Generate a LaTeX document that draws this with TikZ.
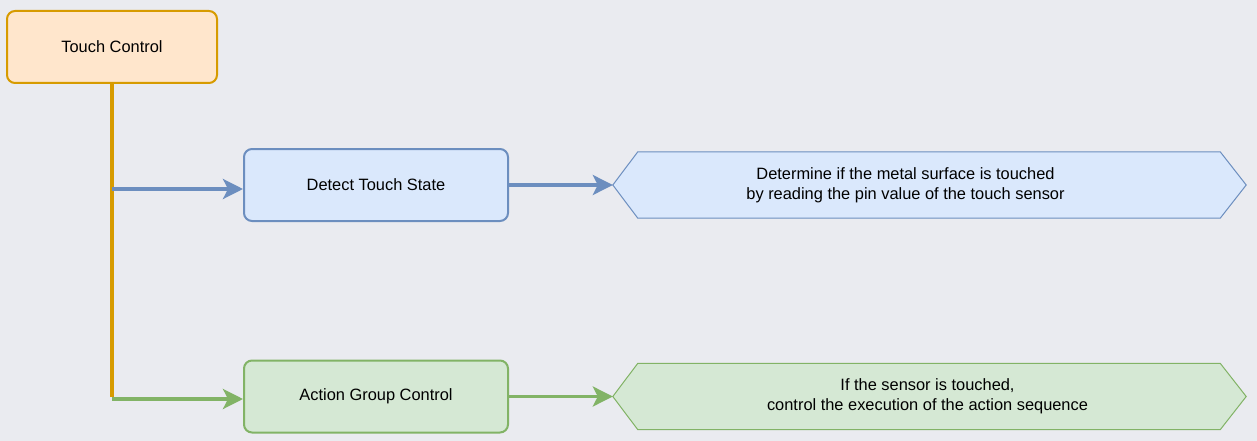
\documentclass[tikz,border=0pt]{standalone}
\usepackage{fontspec}
\setmainfont{Liberation Sans}
\usepackage{tikz}
\usetikzlibrary{positioning, arrows.meta, shapes}
\definecolor{bgcolor}{HTML}{EAEBF0}
\definecolor{illiniorange}{HTML}{FFE6CC}
\definecolor{darkorange}{HTML}{D79B00}
\definecolor{illiniblue}{HTML}{DAE8FC}
\definecolor{darkblue}{HTML}{6C8EBF}
\definecolor{green}{HTML}{D5E8D4}
\definecolor{darkgreen}{HTML}{82B366}
\tikzstyle{oblock} = [rectangle, draw=darkorange, fill=illiniorange, line width=2pt,
minimum width=210pt, minimum height=72pt, rounded corners=8pt]
\tikzstyle{bblock} = [rectangle, draw=darkblue, fill=illiniblue, line width=2pt,
minimum width=264pt, minimum height=72pt, rounded corners=8pt]
\tikzstyle{gblock} = [rectangle, draw=darkgreen, fill=green, line width=2pt,
minimum width=264pt, minimum height=72pt, rounded corners=8pt]
\tikzstyle{hexblock} = [rectangle, inner sep=0pt, minimum width=633pt, minimum height=66pt]
\tikzstyle{noblock} = [rectangle, align=center]
\tikzstyle{barrow} = [line width=3.5pt, draw=darkblue, -{Stealth[length=20pt, width=20pt, inset=5pt]}]
\tikzstyle{garrow} = [line width=3.5pt, draw=darkgreen, -{Stealth[length=20pt, width=20pt, inset=5pt]}]

\begin{document}
\begin{tikzpicture}[x=1pt, y=-1pt]
                \tikzstyle{every node}=[font=\fontsize{16.4}{20}\selectfont]
                \useasboundingbox[fill=bgcolor] (0,0) rectangle (1257,441);
                \node (1) [oblock] at (112,47) {Touch Control};
                \node (2) [bblock] at (376,185) {Detect Touch State};
                \node (3) [gblock] at (376,396.5) {Action Group Control};
                \node (4) [hexblock] at (929.5,185) {};
                \node (5) [hexblock] at (929.5,396.5) {};
                \coordinate (6) at (112,189);
                \coordinate (7) at (112,399);
                % hexagons
                \draw [line width=1pt, draw=darkblue, fill=illiniblue] (4.west) -- ([xshift=25pt]4.north west) -- ([xshift=-26pt]4.north east) -- (4.east) -- ([xshift=-26pt]4.south east) -- ([xshift=25pt]4.south west) -- cycle;
                \draw [line width=1pt, draw=darkgreen, fill=green] (5.west) -- ([xshift=25pt]5.north west) -- ([xshift=-26pt]5.north east) -- (5.east) -- ([xshift=-26pt]5.south east) -- ([xshift=25pt]5.south west) -- cycle;
                \node (8) [noblock] at ([xshift=-24pt]4.center) {Determine if the metal surface is touched\\by reading the pin value of the touch sensor};
                \node (9) [noblock] at ([xshift=-2pt]5.center) {If the sensor is touched,\\control the execution of the action sequence};
                % connectors
                \draw [line width=3.5pt, draw=darkorange] (1.south) -- ([yshift=1.75pt]7);
                \draw [barrow] (6) -- (6 -| 2.west);
                \draw [garrow] (7) -- (7 -| 3.west);
                \draw [barrow] (2) -- (4.west);
                \draw [garrow] (3) -- (5.west);
\end{tikzpicture}
\end{document}
